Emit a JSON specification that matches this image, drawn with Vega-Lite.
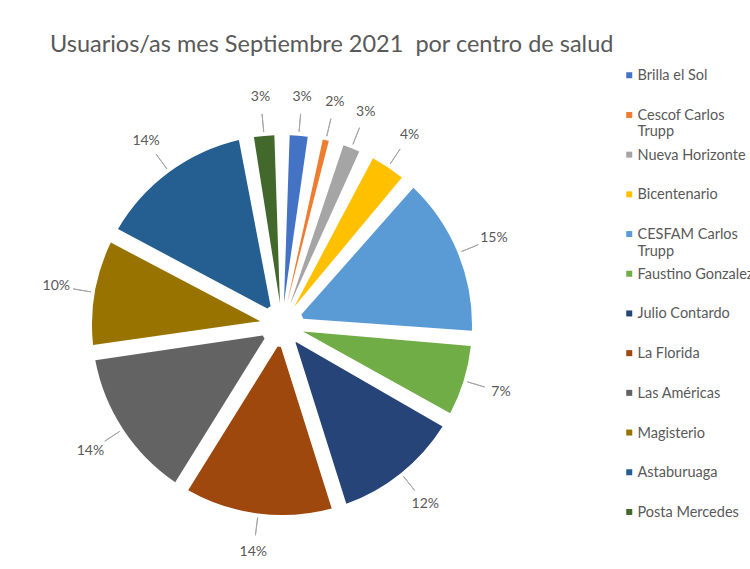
{
  "$schema": "https://vega.github.io/schema/vega-lite/v6.json",
  "autosize": "none",
  "width": 564,
  "height": 488,
  "padding": {"left": 0, "top": 81, "right": 186, "bottom": 0},
  "background": "white",
  "config": {"view": {"stroke": null}, "font": "Lato"},
  "title": {
    "text": "Usuarios/as mes Septiembre 2021\u00a0 por centro de salud",
    "anchor": "start",
    "frame": "group",
    "dx": 50,
    "offset": 12,
    "fontSize": 23.5,
    "fontWeight": "normal",
    "color": "#595959",
    "font": "Lato"
  },
  "data": {
    "values": [
      {"i": 1, "centro": "Brilla el Sol", "share": 0.028},
      {"i": 2, "centro": "Cescof Carlos Trupp", "share": 0.018},
      {"i": 3, "centro": "Nueva Horizonte", "share": 0.027},
      {"i": 4, "centro": "Bicentenario", "share": 0.042},
      {"i": 5, "centro": "CESFAM Carlos Trupp", "share": 0.146},
      {"i": 6, "centro": "Faustino Gonzalez", "share": 0.072},
      {"i": 7, "centro": "Julio Contardo", "share": 0.118},
      {"i": 8, "centro": "La Florida", "share": 0.137},
      {"i": 9, "centro": "Las Américas", "share": 0.138},
      {"i": 10, "centro": "Magisterio", "share": 0.101},
      {"i": 11, "centro": "Astaburuaga", "share": 0.142},
      {"i": 12, "centro": "Posta Mercedes", "share": 0.030}
    ]
  },
  "encoding": {
    "theta": {"field": "share", "type": "quantitative", "stack": true},
    "order": {"field": "i", "type": "quantitative"}
  },
  "layer": [
    {
      "mark": {"type": "arc", "outerRadius": 190, "innerRadius": 22, "padAngle": 0.08},
      "encoding": {
        "color": {
          "field": "centro",
          "type": "nominal",
          "scale": {
            "domain": ["Brilla el Sol", "Cescof Carlos Trupp", "Nueva Horizonte", "Bicentenario", "CESFAM Carlos Trupp", "Faustino Gonzalez", "Julio Contardo", "La Florida", "Las Américas", "Magisterio", "Astaburuaga", "Posta Mercedes"],
            "range": ["#4472C4", "#ED7D31", "#A5A5A5", "#FFC000", "#5B9BD5", "#70AD47", "#264478", "#9E480E", "#636363", "#997300", "#255E91", "#43682B"]
          },
          "legend": {
            "title": null,
            "orient": "none",
            "legendX": 622,
            "legendY": -13,
            "padding": 0,
            "symbolType": "square",
            "symbolSize": 36,
            "symbolStrokeWidth": 0,
            "labelFont": "Lato",
            "labelFontSize": 14.5,
            "labelColor": "#595959",
            "labelLimit": 300,
            "labelOffset": 1,
            "labelBaseline": "alphabetic",
            "labelLineHeight": 20,
            "gridAlign": "all",
            "rowPadding": 7.7,
            "labelExpr": "datum.label == 'Cescof Carlos Trupp' ? ['Cescof Carlos', 'Trupp'] : datum.label == 'CESFAM Carlos Trupp' ? ['CESFAM Carlos', 'Trupp'] : datum.label",
            "encode": {"labels": {"update": {"dy": {"value": 5}}}}
          }
        }
      }
    },
    {
      "mark": {"type": "arc", "outerRadius": 212, "innerRadius": 194, "padAngle": 2, "filled": false, "stroke": "#a6a6a6", "strokeWidth": 1}
    },
    {
      "mark": {"type": "text", "radius": 229, "fontSize": 14, "color": "#595959", "font": "Lato"},
      "encoding": {"text": {"field": "share", "type": "quantitative", "format": ".0%"}}
    }
  ]
}
